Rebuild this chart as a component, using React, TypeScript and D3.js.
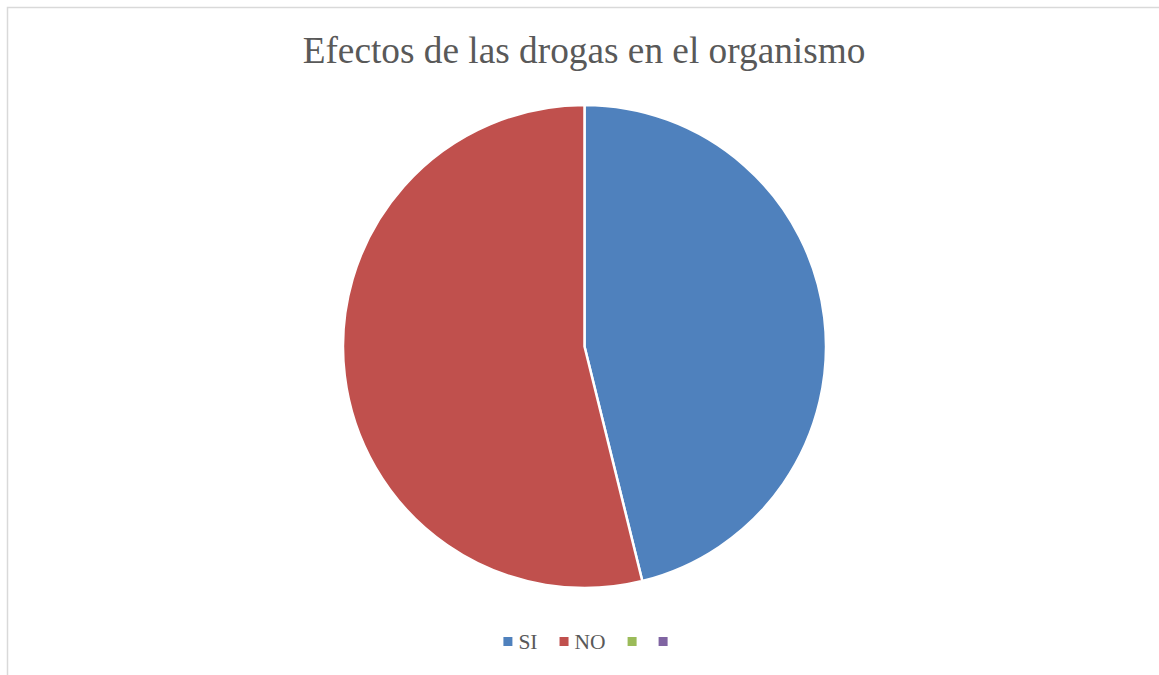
import React, { useRef, useEffect } from "react";
import * as d3 from "d3";

const categories = ["SI", "NO", "", ""];
const values = [6, 7, 0, 0];
const colors = ["#4F81BD", "#C0504D", "#9BBB59", "#8064A2"];
const title = "Efectos de las drogas en el organismo";

const W = 1159;
const H = 675;

const App: React.FC = () => {
  const ref = useRef<SVGSVGElement>(null);

  useEffect(() => {
    if (!ref.current) return;
    const svg = d3.select(ref.current);
    svg.selectAll("*").remove();

    // background + partial frame (top & left only visible)
    svg.append("rect").attr("width", W).attr("height", H).attr("fill", "#fff");
    svg
      .append("path")
      .attr("d", `M7.5,${H} L7.5,7.5 L${W},7.5`)
      .attr("fill", "none")
      .attr("stroke", "#d9d9d9")
      .attr("stroke-width", 1.5);

    svg
      .append("text")
      .attr("x", 584)
      .attr("y", 63)
      .attr("text-anchor", "middle")
      .style("font-family", "'Liberation Serif', 'Times New Roman', serif")
      .style("font-size", "37.3px")
      .style("fill", "#595959")
      .text(title);

    const cx = 584.5;
    const cy = 346.5;
    const radius = 241.5;

    const data = categories.map((c, i) => ({ cat: c, value: values[i], color: colors[i] }));
    const pie = d3
      .pie<{ cat: string; value: number; color: string }>()
      .sort(null)
      .value((d) => d.value);
    const arc = d3
      .arc<d3.PieArcDatum<{ cat: string; value: number; color: string }>>()
      .innerRadius(0)
      .outerRadius(radius);

    svg
      .append("g")
      .attr("transform", `translate(${cx},${cy})`)
      .selectAll("path")
      .data(pie(data).filter((d) => d.data.value > 0))
      .enter()
      .append("path")
      .attr("d", arc)
      .attr("fill", (d) => d.data.color)
      .attr("stroke", "#fff")
      .attr("stroke-width", 2.5)
      .attr("stroke-linejoin", "round");

    // legend
    const legend = svg.append("g");
    const sq = 9;
    const gap = 6;
    const after = 22;
    let x = 0;
    data.forEach((d) => {
      const g = legend.append("g").attr("transform", `translate(${x},0)`);
      g.append("rect")
        .attr("x", 0)
        .attr("y", -sq / 2)
        .attr("width", sq)
        .attr("height", sq)
        .attr("fill", d.color);
      const t = g
        .append("text")
        .attr("x", sq + gap)
        .attr("y", 7.5)
        .style("font-family", "'Liberation Serif', 'Times New Roman', serif")
        .style("font-size", "21.5px")
        .style("fill", "#595959")
        .text(d.cat);
      const tw = d.cat ? (t.node() as SVGTextElement).getComputedTextLength() : -6;
      x += sq + gap + tw + after;
    });
    const total = x - after;
    legend.attr("transform", `translate(${585.5 - total / 2},641.5)`);
  }, []);

  return (
    <svg
      ref={ref}
      width={W}
      height={H}
      style={{ position: "absolute", left: 0, top: 0, display: "block" }}
    ></svg>
  );
};

export default App;
